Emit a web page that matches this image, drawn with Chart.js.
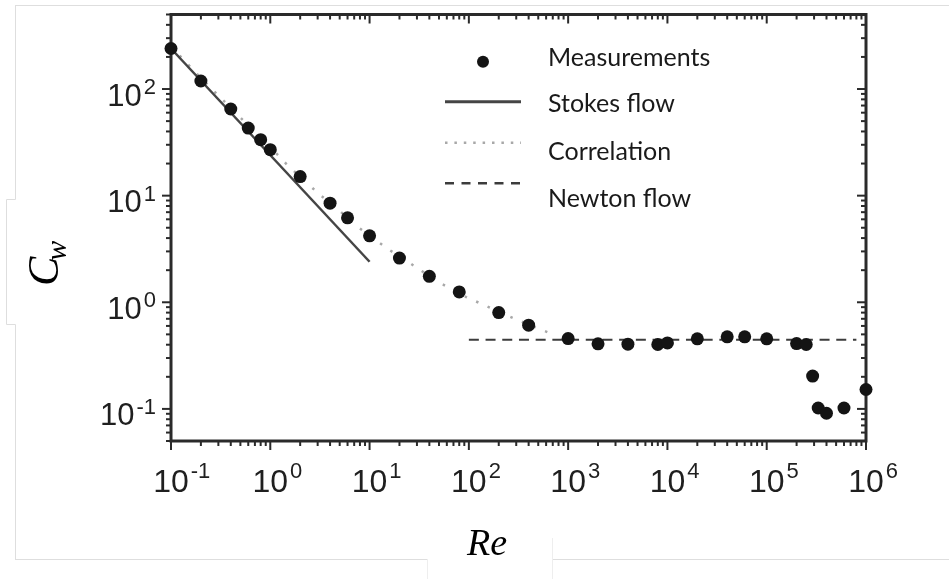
<!DOCTYPE html>
<html>
<head>
<meta charset="utf-8">
<script src="https://cdn.jsdelivr.net/npm/chart.js@4.4.1/dist/chart.umd.min.js"></script>
<style>
  html, body { margin: 0; padding: 0; background: #fff; }
  #wrap { width: 949px; height: 579px; position: relative; }
</style>
</head>
<body>
<div id="wrap"><canvas id="dragChart"></canvas></div>
<script>
const measRe = [0.1, 0.2, 0.4, 0.6, 0.8, 1, 2, 4, 6, 10, 20, 40, 80, 200, 400,
    1000, 2000, 4000, 8000, 10000, 20000, 40000, 60000, 100000,
    200000, 250000, 290000, 330000, 400000, 600000, 1000000];
const measCw = [240, 119, 65, 43, 33.5, 27, 15.1, 8.5, 6.2, 4.2, 2.6, 1.75, 1.25, 0.8, 0.61,
    0.457, 0.408, 0.405, 0.402, 0.416, 0.454, 0.474, 0.474, 0.454,
    0.41, 0.402, 0.203, 0.102, 0.091, 0.102, 0.152];

// Stokes flow (straight line on log-log)
const stokesRe = [0.1, 10];
const stokesCw = [240, 2.4];

// Correlation curve
const corrRe = [0.1, 0.2, 0.5, 1, 1.5, 2.4, 3, 5, 7.6, 15, 24, 48, 94, 290, 740];
const corrCw = [250, 127, 54, 28.5, 19.2, 12.9, 10.6, 7.2, 5.1, 3.2, 2.42, 1.57, 1.12, 0.70, 0.49];

// Newton flow (constant drag)
const newtonRe = [100, 800000];
const newtonCw = [0.445, 0.445];

// Axis ranges and tick labels (decade exponents)
const xRange = [0.1, 1e6];
const yRange = [0.05, 500];
const xExponents = ['-1', '0', '1', '2', '3', '4', '5', '6'];
const yExponents = ['-1', '0', '1', '2'];
const minorSteps = [1, 2, 3, 4, 5, 6, 7, 8, 9];

const toPoints = (xs, ys) => xs.map((v, i) => ({ x: v, y: ys[i] }));

// All log ticks between lo and hi
function logTicks(lo, hi) {
    const out = [];
    for (let e = Math.floor(Math.log10(lo)); e <= Math.ceil(Math.log10(hi)); e++) {
        minorSteps.forEach(m => {
            const v = m * Math.pow(10, e);
            if (v >= lo * 0.999 && v <= hi * 1.001) out.push({ v, major: m === 1 });
        });
    }
    return out;
}

function line(ctx, x1, y1, x2, y2) {
    ctx.beginPath();
    ctx.moveTo(x1, y1);
    ctx.lineTo(x2, y2);
    ctx.stroke();
}

// Light frame lines of the pasted picture
const backdrop = {
    id: 'backdrop',
    beforeDraw(chart) {
        const ctx = chart.ctx;
        ctx.save();
        ctx.strokeStyle = '#dedede';
        ctx.lineWidth = 1;
        line(ctx, 15, 5.5, 949, 5.5);
        line(ctx, 15.5, 5, 15.5, 199.5);
        line(ctx, 15.5, 199.5, 6.5, 199.5);
        line(ctx, 6.5, 199.5, 6.5, 324.5);
        line(ctx, 6.5, 324.5, 15.5, 324.5);
        line(ctx, 15.5, 324.5, 15.5, 559.5);
        line(ctx, 15, 559.5, 427, 559.5);
        line(ctx, 552, 559.5, 949, 559.5);
        ctx.strokeStyle = '#eeeeee';
        line(ctx, 427.5, 559, 427.5, 579);
        line(ctx, 552.5, 538, 552.5, 579);
        ctx.restore();
    }
};

// Box frame, tick marks and tick labels
const frameAxes = {
    id: 'frameAxes',
    beforeDatasetsDraw(chart) {
        const { ctx, chartArea: a, scales: { x, y } } = chart;
        ctx.save();
        ctx.strokeStyle = '#2a2a2a';
        ctx.lineWidth = 2;
        logTicks(xRange[0], xRange[1]).forEach(t => {
            const px = x.getPixelForValue(t.v);
            const len = t.major ? 9 : 5;
            line(ctx, px, a.bottom, px, a.bottom + len);
            line(ctx, px, a.top, px, a.top + len);
        });
        logTicks(yRange[0], yRange[1]).forEach(t => {
            const py = y.getPixelForValue(t.v);
            const len = t.major ? 9 : 5;
            line(ctx, a.left - len, py, a.left, py);
            line(ctx, a.right - len, py, a.right, py);
        });
        ctx.lineWidth = 3;
        ctx.strokeRect(a.left, a.top, a.right - a.left, a.bottom - a.top);

        // decade labels 10^n
        ctx.fillStyle = '#1f1f1f';
        ctx.textBaseline = 'alphabetic';
        const expFont = '22px "Liberation Sans", Arial, sans-serif';
        xExponents.forEach(ex => {
            const px = x.getPixelForValue(Math.pow(10, Number(ex)));
            ctx.font = '32px "Liberation Sans", Arial, sans-serif';
            const w10 = ctx.measureText('10').width;
            ctx.textAlign = 'center';
            ctx.fillText('10', px, 492);
            ctx.font = expFont;
            ctx.textAlign = 'left';
            ctx.fillText(ex, px + w10 / 2 + 2, 478);
        });
        yExponents.forEach(ex => {
            const py = y.getPixelForValue(Math.pow(10, Number(ex)));
            ctx.font = expFont;
            const wE = ctx.measureText(ex).width;
            ctx.textAlign = 'right';
            ctx.fillText(ex, 156, py + 5);
            ctx.font = '31px "Liberation Sans", Arial, sans-serif';
            ctx.fillText('10', 156 - wE - 2, py + 16.5);
        });

        // axis titles
        ctx.fillStyle = '#000';
        ctx.font = 'italic 38px "Liberation Serif", serif';
        ctx.textAlign = 'center';
        ctx.fillText('Re', 487, 555);

        ctx.translate(58, 286);
        ctx.rotate(-Math.PI / 2);
        ctx.textAlign = 'left';
        ctx.font = 'italic 44px "Liberation Serif", serif';
        const wC = ctx.measureText('C').width;
        ctx.fillText('C', 0, 0);
        ctx.font = 'italic 30px "Liberation Serif", serif';
        ctx.fillText('w', wC - 4, 8);
        ctx.restore();
    }
};

// Legend inside the plot, symbols and text on separate rows
const sideLegend = {
    id: 'sideLegend',
    afterDraw(chart) {
        const ctx = chart.ctx;
        const ds = chart.data.datasets;
        const symY = [61.7, 101.7, 142.7, 183.3];
        const textY = [66, 112, 160, 207];
        ctx.save();
        ds.forEach((d, i) => {
            if (d.showLine === false) {
                ctx.fillStyle = d.backgroundColor;
                ctx.beginPath();
                ctx.arc(483, symY[i], 6, 0, Math.PI * 2);
                ctx.fill();
            } else {
                ctx.strokeStyle = d.borderColor;
                ctx.lineWidth = d.legendWidth;
                ctx.setLineDash(d.legendDash);
                line(ctx, 445, symY[i], 521, symY[i]);
                ctx.setLineDash([]);
            }
            ctx.fillStyle = '#1a1a1a';
            ctx.font = '25px Lato, "Open Sans", sans-serif';
            ctx.textAlign = 'left';
            ctx.fillText(d.label, 548, textY[i]);
        });
        ctx.restore();
    }
};

const chart = new Chart(document.getElementById('dragChart'), {
    type: 'scatter',
    data: {
        datasets: [
            {
                label: 'Measurements',
                data: toPoints(measRe, measCw),
                showLine: false,
                pointRadius: 6.5,
                pointHoverRadius: 6.5,
                backgroundColor: '#141414',
                borderColor: '#141414',
                borderWidth: 0,
                clip: false
            },
            {
                label: 'Stokes flow',
                data: toPoints(stokesRe, stokesCw),
                showLine: true,
                pointRadius: 0,
                borderColor: '#454545',
                borderWidth: 2.5,
                legendWidth: 3,
                legendDash: []
            },
            {
                label: 'Correlation',
                data: toPoints(corrRe, corrCw),
                showLine: true,
                pointRadius: 0,
                borderColor: '#a8a8a8',
                borderWidth: 2.5,
                borderDash: [2.5, 10],
                legendWidth: 2.5,
                legendDash: [2.5, 6.9]
            },
            {
                label: 'Newton flow',
                data: toPoints(newtonRe, newtonCw),
                showLine: true,
                pointRadius: 0,
                borderColor: '#3c3c3c',
                borderWidth: 2,
                borderDash: [10, 6.7],
                legendWidth: 2.5,
                legendDash: [9, 7.5]
            }
        ]
    },
    options: {
        responsive: true,
        maintainAspectRatio: false,
        animation: false,
        layout: { padding: { left: 171, top: 14.5, right: 83, bottom: 138 } },
        plugins: {
            legend: { display: false },
            tooltip: { enabled: false }
        },
        scales: {
            x: { type: 'logarithmic', min: xRange[0], max: xRange[1], display: false },
            y: { type: 'logarithmic', min: yRange[0], max: yRange[1], display: false }
        }
    },
    plugins: [backdrop, frameAxes, sideLegend]
});
</script>
</body>
</html>
